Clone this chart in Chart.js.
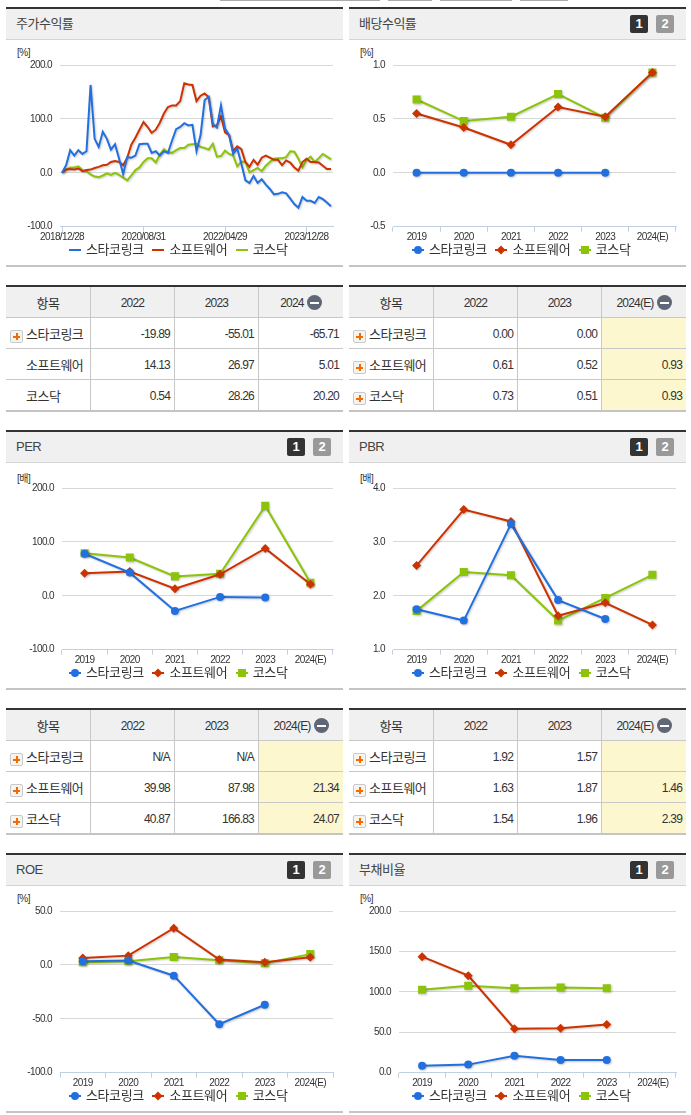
<!DOCTYPE html>
<html lang="ko">
<head>
<meta charset="utf-8">
<title>스타코링크</title>
<script src="https://cdn.jsdelivr.net/npm/chart.js@4"></script>
<style>
  html, body { margin: 0; padding: 0; background: #fff; }
  body { position: relative; width: 691px; height: 1115px; overflow: hidden; color: #333;
         font-family: "Liberation Sans", "Noto Sans CJK KR", sans-serif; }
  .tab { position: absolute; top: 0; height: 1px; background: #aaa; }
  .panel { position: absolute; width: 337px; height: 260px; box-sizing: border-box;
           border-top: 2px solid #333; border-bottom: 2px solid #c4c4c4; }
  .panel-head { height: 30px; line-height: 29px; background: #f0f0f0; border-bottom: 1px solid #d4d4d4;
                padding-left: 10px; font-size: 13px; letter-spacing: -.5px; color: #444; }
  .btn { position: absolute; top: 6px; width: 18px; height: 18px; line-height: 18px; border-radius: 2px;
         text-align: center; color: #fff; font-size: 13px; font-weight: bold; letter-spacing: 0; }
  .btn.on { background: #333; }
  .btn.off { background: #999; }
  .unit { position: absolute; top: 38px; left: 11px; font-size: 10px; letter-spacing: -.5px; }
  .plot { position: absolute; left: 0; top: 31px; }
  .legend { position: absolute; left: 63px; top: 233px; height: 16px; line-height: 16px; font-size: 13px;
            letter-spacing: -.4px; white-space: nowrap; }
  .legend span { display: inline-block; width: 83.4px; }
  .legend canvas { margin-right: 5px; vertical-align: -1px; }
  table { position: absolute; width: 337px; table-layout: fixed; border-collapse: separate; border-spacing: 0;
          border-top: 2px solid #333; font-size: 12px; letter-spacing: -.8px; }
  th, td { box-sizing: border-box; height: 31px; padding: 1px 4px 0 0; border-bottom: 1px solid #c8c8c8;
           border-right: 1px solid #c8c8c8; font-weight: normal; text-align: right; }
  th { background: #f0f0f0; text-align: center; padding: 1px 0 0; }
  th:last-child, td:last-child { border-right: 0; }
  tr:last-child td { height: 32px; border-bottom: 2px solid #c4c4c4; }
  td.name { text-align: left; padding-left: 20px; font-size: 13px; letter-spacing: -.5px; position: relative; }
  th.item { font-size: 13px; letter-spacing: -.5px; }
  td.est { background: #fdf7cf; }
  .plus { position: absolute; left: 4px; top: 12px; width: 11px; height: 11px; border: 1px solid #c8c8c8;
          border-radius: 2px; background:
          linear-gradient(#f26a00, #f26a00) center / 7px 2px no-repeat,
          linear-gradient(#f26a00, #f26a00) center / 2px 7px no-repeat, #f6f4ee; }
  .minus { display: inline-block; width: 15px; height: 15px; border-radius: 50%; margin-left: 3px; vertical-align: -3px;
           background: linear-gradient(#fff, #fff) center / 9px 2px no-repeat, #5f6675; }
</style>
</head>
<body>
<script>
// 기간 / 범례
const stockDates = [
    '2018/12/28',
    '2019/01/31', '2019/02/28', '2019/03/29', '2019/04/30', '2019/05/31', '2019/06/28',
    '2019/07/31', '2019/08/30', '2019/09/30', '2019/10/31', '2019/11/29', '2019/12/30',
    '2020/01/31', '2020/02/28', '2020/03/31', '2020/04/29', '2020/05/29', '2020/06/30',
    '2020/07/31', '2020/08/31', '2020/09/29', '2020/10/30', '2020/11/30', '2020/12/30',
    '2021/01/29', '2021/02/26', '2021/03/31', '2021/04/30', '2021/05/31', '2021/06/30',
    '2021/07/30', '2021/08/31', '2021/09/30', '2021/10/29', '2021/11/30', '2021/12/30',
    '2022/01/28', '2022/02/28', '2022/03/31', '2022/04/29', '2022/05/31', '2022/06/30',
    '2022/07/29', '2022/08/31', '2022/09/30', '2022/10/31', '2022/11/30', '2022/12/29',
    '2023/01/31', '2023/02/28', '2023/03/31', '2023/04/28', '2023/05/31', '2023/06/30',
    '2023/07/31', '2023/08/31', '2023/09/27', '2023/10/31', '2023/11/30', '2023/12/28',
    '2024/01/31', '2024/02/29', '2024/03/29', '2024/04/30', '2024/05/31', '2024/06/28'
];
const years = ['2019', '2020', '2021', '2022', '2023', '2024(E)'];
const seriesNames = ['스타코링크', '소프트웨어', '코스닥'];
const seriesColors = ['#2270e0', '#cc3300', '#8cc40a'];

// 주가수익률
const starReturn = [0, 14, 42, 32, 42, 35, 40, 163, 63, 48, 76, 63, 43, 53, 26, -2, 29, 28, 32, 53, 54, 54, 37, 40, 32, 40, 37, 60, 81, 85, 92, 88, 89, 40, 70, 135, 141, 91, 84, 125, 82, 70, 35, 45, 17, -14, -19, -6, -19, -12, -22, -30, -40, -39, -36, -38, -48, -58, -65, -45, -52, -52, -56, -45, -49, -55, -62];
const softReturn = [0, 6, 7, 6, 8, 3, 5, 6, 9, 11, 14, 15, 20, 22, 20, 14, 28, 52, 65, 80, 94, 85, 74, 80, 93, 110, 122, 125, 125, 133, 166, 164, 163, 133, 143, 147, 140, 86, 88, 105, 75, 70, 40, 49, 44, 20, 11, 24, 15, 28, 32, 28, 24, 24, 14, 23, 19, 10, 4, 20, 26, 20, 20, 19, 13, 7, 7];
const kosdaqReturn = [0, 6, 10, 10, 12, 5, 3, -3, -7, -8, -5, -1, -4, 0, -4, -9, -14, -5, 5, 10, 20, 27, 27, 19, 34, 44, 38, 37, 42, 46, 46, 52, 53, 54, 48, 46, 43, 54, 30, 31, 41, 35, 32, 12, 21, 20, 1, 5, 9, 3, 13, 20, 26, 27, 27, 29, 40, 39, 26, 10, 24, 30, 20, 27, 35, 30, 25];
const returnTicks = [-100, 0, 100, 200];

// 배당수익률
const starDividend = [0, 0, 0, 0, 0, null];
const softDividend = [0.55, 0.42, 0.26, 0.61, 0.52, 0.93];
const kosdaqDividend = [0.68, 0.48, 0.52, 0.73, 0.51, 0.93];
const dividendTicks = [-0.5, 0, 0.5, 1];

// PER
const starPer = [78, 43, -28, -2, -3, null];
const softPer = [42, 45, 13, 39.98, 87.98, 21.34];
const kosdaqPer = [79, 71, 36, 40.87, 166.83, 24.07];
const perTicks = [-100, 0, 100, 200];

// PBR
const starPbr = [1.75, 1.54, 3.33, 1.92, 1.57, null];
const softPbr = [2.56, 3.6, 3.38, 1.63, 1.87, 1.46];
const kosdaqPbr = [1.72, 2.44, 2.38, 1.54, 1.96, 2.39];
const pbrTicks = [1, 2, 3, 4];

// ROE
const starRoe = [3.5, 4, -10, -55, -37, null];
const softRoe = [6.5, 8.6, 34, 5, 2.5, 7];
const kosdaqRoe = [2.5, 3.4, 7.4, 4.3, 1.5, 10];
const roeTicks = [-100, -50, 0, 50];

// 부채비율
const starDebt = [8.7, 10, 21, 15.7, 15.7, null];
const softDebt = [143.5, 120, 54.5, 55, 59.5, null];
const kosdaqDebt = [102.5, 107.5, 104.5, 105.4, 104.5, null];
const debtTicks = [0, 50, 100, 150, 200];

// 표 데이터
const returnHead = ['2022', '2023', '2024'];
const estHead = ['2022', '2023', '2024(E)'];
const returnRows = [['-19.89', '-55.01', '-65.71'], ['14.13', '26.97', '5.01'], ['0.54', '28.26', '20.20']];
const dividendRows = [['0.00', '0.00', ''], ['0.61', '0.52', '0.93'], ['0.73', '0.51', '0.93']];
const perRows = [['N/A', 'N/A', ''], ['39.98', '87.98', '21.34'], ['40.87', '166.83', '24.07']];
const pbrRows = [['1.92', '1.57', ''], ['1.63', '1.87', '1.46'], ['1.54', '1.96', '2.39']];

const COL_LEFT = [6, 349];
const PANEL_TOP = [7, 430, 853];
const TABLE_TOP = [285, 708];
const POINT_STYLES = ['circle', 'rectRot', 'rect'];

// 범례 마커 (선 + 점)
function legendMark(color, style) {
    const c = document.createElement('canvas');
    c.width = 12; c.height = 10;
    const g = c.getContext('2d');
    g.strokeStyle = color; g.fillStyle = color; g.lineWidth = 2;
    g.beginPath(); g.moveTo(0, 5); g.lineTo(12, 5); g.stroke();
    g.beginPath();
    if (style === 'circle') g.arc(6, 5, 4, 0, Math.PI * 2);
    if (style === 'rectRot') { g.moveTo(6, 0.5); g.lineTo(10.5, 5); g.lineTo(6, 9.5); g.lineTo(1.5, 5); g.closePath(); }
    if (style === 'rect') g.rect(2, 1, 8, 8);
    g.fill();
    return c;
}

// 텍스트 자간과 선 그림자
const chartLook = {
    id: 'chartLook',
    beforeUpdate(chart) { chart.ctx.letterSpacing = '-0.6px'; },
    beforeDraw(chart) { chart.ctx.letterSpacing = '-0.6px'; },
    beforeDatasetsDraw(chart) {
        const ctx = chart.ctx;
        ctx.save();
        ctx.shadowColor = 'rgba(0,0,0,0.22)';
        ctx.shadowBlur = 2;
        ctx.shadowOffsetX = 1;
        ctx.shadowOffsetY = 1;
    },
    afterDatasetsDraw(chart) { chart.ctx.restore(); }
};

function addPanel(col, row, title, unit, tabs) {
    const panel = document.createElement('div');
    panel.className = 'panel';
    panel.style.left = COL_LEFT[col] + 'px';
    panel.style.top = PANEL_TOP[row] + 'px';
    let html = '<div class="panel-head">' + title + '</div>';
    if (tabs) {
        html += '<div class="btn on" style="left:281px">1</div><div class="btn off" style="left:307px">2</div>';
    }
    html += '<div class="unit">[' + unit + ']</div>';
    panel.innerHTML = html;
    document.body.appendChild(panel);
    return panel;
}

function addLegend(panel, markers) {
    const legend = document.createElement('div');
    legend.className = 'legend';
    seriesNames.forEach((name, i) => {
        const item = document.createElement('span');
        item.appendChild(legendMark(seriesColors[i], markers ? POINT_STYLES[i] : 'line'));
        item.appendChild(document.createTextNode(name));
        legend.appendChild(item);
    });
    panel.appendChild(legend);
}

function addChart(col, row, title, unit, labels, series, ticks, plotLeft, markers) {
    const panel = addPanel(col, row, title, unit, markers);
    const canvas = document.createElement('canvas');
    canvas.className = 'plot';
    canvas.width = 337;
    canvas.height = 225;
    panel.appendChild(canvas);
    addLegend(panel, markers);

    const axisWidth = plotLeft - COL_LEFT[col];

    new Chart(canvas.getContext('2d'), {
        type: 'line',
        data: {
            labels: labels,
            datasets: series.map((values, i) => ({
                label: seriesNames[i],
                data: values,
                borderColor: seriesColors[i],
                backgroundColor: seriesColors[i],
                borderWidth: 2,
                tension: 0,
                pointStyle: POINT_STYLES[i],
                pointRadius: markers ? [4, 4.5, 5.7][i] : 0,
                pointBorderWidth: 0
            }))
        },
        plugins: [chartLook],
        options: {
            responsive: false,
            animation: false,
            events: [],
            layout: { padding: { top: 25, left: 0, right: 10, bottom: 18.3 } },
            plugins: {
                tooltip: { enabled: false },
                legend: { display: false }
            },
            scales: {
                x: {
                    offset: true,
                    afterFit: scale => { scale.height = 20; },
                    border: { color: '#c0d0e0' },
                    grid: { drawOnChartArea: false, tickColor: '#c0d0e0', tickLength: 5, offset: markers },
                    ticks: {
                        autoSkip: false,
                        maxRotation: 0,
                        padding: 0,
                        color: '#333',
                        font: { family: '"Liberation Sans", sans-serif', size: 10 },
                        callback: function (value, index) {
                            if (markers || index % 20 === 0) return this.getLabelForValue(value);
                            return null;
                        }
                    }
                },
                y: {
                    min: ticks[0],
                    max: ticks[ticks.length - 1],
                    afterFit: scale => { scale.width = axisWidth; },
                    afterBuildTicks: scale => { scale.ticks = ticks.map(v => ({ value: v })); },
                    border: { display: false },
                    grid: { color: '#d8d8d8', drawTicks: false },
                    ticks: {
                        padding: 8,
                        color: '#333',
                        font: { family: '"Liberation Sans", sans-serif', size: 10 },
                        callback: value => value.toFixed(1)
                    }
                }
            }
        }
    });
}

function addTable(col, row, head, rows, headMinus, estimated, plusFirstOnly) {
    const table = document.createElement('table');
    table.style.left = COL_LEFT[col] + 'px';
    table.style.top = TABLE_TOP[row] + 'px';
    let html = '<colgroup><col style="width:85px"><col style="width:84px"><col style="width:84px"><col style="width:84px"></colgroup>';
    html += '<tr><th class="item">항목</th>';
    head.forEach((h, i) => {
        html += '<th>' + h + (i === 2 && headMinus ? '<span class="minus"></span>' : '') + '</th>';
    });
    html += '</tr>';
    rows.forEach((cells, r) => {
        const plus = (!plusFirstOnly || r === 0) ? '<span class="plus"></span>' : '';
        html += '<tr><td class="name">' + plus + seriesNames[r] + '</td>';
        cells.forEach((v, i) => {
            html += '<td' + (estimated && i === 2 ? ' class="est"' : '') + '>' + v + '</td>';
        });
        html += '</tr>';
    });
    table.innerHTML = html;
    document.body.appendChild(table);
}

// 상단 탭 끝부분
[[220, 160], [388, 44], [440, 72], [520, 48]].forEach(t => {
    const tab = document.createElement('div');
    tab.className = 'tab';
    tab.style.left = t[0] + 'px';
    tab.style.width = t[1] + 'px';
    document.body.appendChild(tab);
});

addChart(0, 0, '주가수익률', '%', stockDates, [starReturn, softReturn, kosdaqReturn], returnTicks, 60, false);
addChart(1, 0, '배당수익률', '%', years, [starDividend, softDividend, kosdaqDividend], dividendTicks, 393, true);
addChart(0, 1, 'PER', '배', years, [starPer, softPer, kosdaqPer], perTicks, 62, true);
addChart(1, 1, 'PBR', '배', years, [starPbr, softPbr, kosdaqPbr], pbrTicks, 393, true);
addChart(0, 2, 'ROE', '%', years, [starRoe, softRoe, kosdaqRoe], roeTicks, 60, true);
addChart(1, 2, '부채비율', '%', years, [starDebt, softDebt, kosdaqDebt], debtTicks, 399, true);

addTable(0, 0, returnHead, returnRows, true, false, true);
addTable(1, 0, estHead, dividendRows, true, true, false);
addTable(0, 1, estHead, perRows, true, true, false);
addTable(1, 1, estHead, pbrRows, true, true, false);
</script>
</body>
</html>
